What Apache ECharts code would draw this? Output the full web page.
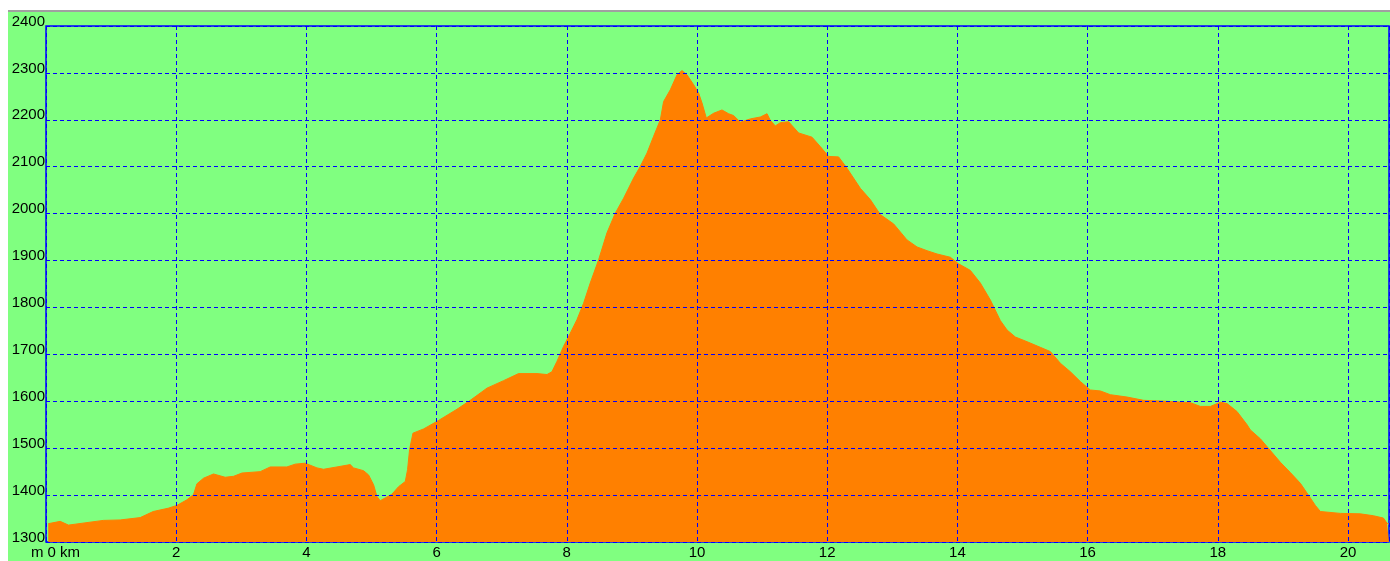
<!DOCTYPE html>
<html>
<head>
<meta charset="utf-8">
<title>Höhenprofil</title>
<script src="https://cdn.jsdelivr.net/npm/echarts@6/dist/echarts.min.js"></script>
<style>
  html, body { margin: 0; padding: 0; background: #ffffff; }
  #chart { width: 1390px; height: 561px; }
</style>
</head>
<body>
<div id="chart"></div>
<script>
// Distance along the route (km)
const distKm = [
  0.034, 0.218, 0.346, 0.449, 0.879, 1.14, 1.447, 1.647, 1.877, 2.011,
  2.165, 2.266, 2.318, 2.42, 2.573, 2.753, 2.881, 3.01, 3.291, 3.445,
  3.70, 3.829, 3.982, 4.162, 4.263, 4.469, 4.673, 4.724, 4.878, 4.955,
  5.032, 5.084, 5.134, 5.211, 5.314, 5.416, 5.519, 5.554, 5.585, 5.637,
  5.80, 6.005, 6.313, 6.517, 6.774, 7.029, 7.259, 7.542, 7.696, 7.772,
  7.849, 7.95, 8.053, 8.156, 8.258, 8.36, 8.49, 8.617, 8.745, 8.873,
  9.027, 9.13, 9.232, 9.334, 9.437, 9.487, 9.59, 9.693, 9.77, 9.846,
  9.948, 10.025, 10.077, 10.143, 10.255, 10.384, 10.486, 10.563, 10.666, 10.82,
  10.973, 11.076, 11.126, 11.203, 11.28, 11.407, 11.561, 11.767, 11.894, 12.022,
  12.175, 12.304, 12.509, 12.662, 12.816, 13.021, 13.226, 13.38, 13.534, 13.687,
  13.892, 14.019, 14.199, 14.353, 14.506, 14.66, 14.763, 14.89, 15.07, 15.274,
  15.428, 15.582, 15.735, 15.889, 16.042, 16.196, 16.35, 16.606, 16.861, 17.221,
  17.579, 17.733, 17.886, 18.04, 18.143, 18.296, 18.45, 18.5, 18.654, 18.777,
  18.961, 19.115, 19.269, 19.392, 19.499, 19.576, 19.883, 20.19, 20.39, 20.544,
  20.6, 20.63
];

// Elevation at each point (m)
const elevM = [
  1339, 1344, 1336, 1338, 1346, 1347, 1352, 1365, 1372, 1378,
  1390, 1401, 1424, 1436, 1445, 1438, 1440, 1447, 1450, 1460,
  1460, 1466, 1468, 1458, 1455, 1460, 1465, 1458, 1452, 1443,
  1422, 1397, 1388, 1394, 1402, 1418, 1429, 1454, 1497, 1532,
  1541, 1557, 1583, 1602, 1628, 1644, 1659, 1659, 1657, 1663,
  1685, 1717, 1745, 1774, 1809, 1852, 1902, 1959, 2001, 2033,
  2076, 2101, 2129, 2165, 2200, 2239, 2264, 2296, 2305, 2296,
  2275, 2257, 2236, 2204, 2214, 2221, 2213, 2209, 2195, 2202,
  2206, 2213, 2199, 2187, 2194, 2196, 2172, 2163, 2143, 2122,
  2121, 2097, 2054, 2030, 1998, 1978, 1944, 1929, 1921, 1914,
  1907, 1893, 1879, 1852, 1816, 1772, 1752, 1737, 1727, 1715,
  1706, 1681, 1663, 1642, 1624, 1622, 1614, 1609, 1602, 1600,
  1597, 1589, 1589, 1598, 1595, 1578, 1550, 1539, 1520, 1500,
  1470, 1448, 1425, 1400, 1378, 1365, 1361, 1360, 1356, 1351,
  1340, 1338
];

// Axis ranges and tick steps
const xRange = [0, 20.63];
const xStep = 2;
const yRange = [1300, 2400];
const yStep = 100;

const FONT = '"Liberation Sans", Arial, sans-serif';
const BLUE = '#0000ff';

const chart = echarts.init(document.getElementById('chart'), null, { renderer: 'canvas' });

chart.setOption({
  animation: false,
  backgroundColor: '#80ff80',
  graphic: [
    { type: 'rect', shape: { x: 0, y: 0, width: 1390, height: 10 }, style: { fill: '#ffffff' }, silent: true },
    { type: 'rect', shape: { x: 0, y: 0, width: 8, height: 561 }, style: { fill: '#ffffff' }, silent: true },
    { type: 'rect', shape: { x: 8, y: 10, width: 1382, height: 2 }, style: { fill: '#a0a0a0' }, silent: true }
  ],
  grid: {
    left: 46, top: 26, width: 1343, height: 516,
    show: true,
    borderColor: BLUE,
    borderWidth: 1.5,
    backgroundColor: 'transparent',
    containLabel: false
  },
  xAxis: {
    type: 'value',
    min: xRange[0], max: xRange[1], interval: xStep,
    z: 5,
    axisLine: { show: false },
    axisTick: { show: false },
    splitLine: { show: true, lineStyle: { color: BLUE, width: 1, type: [4, 3] } },
    axisLabel: {
      showMaxLabel: false,
      margin: 3,
      color: '#000',
      fontFamily: FONT,
      fontSize: 15,
      formatter: v => v === 0 ? '{z|m 0 km}' : String(v),
      rich: { z: { padding: [0, 0, 0, 19], fontFamily: FONT, fontSize: 15, color: '#000' } }
    }
  },
  yAxis: {
    type: 'value',
    min: yRange[0], max: yRange[1], interval: yStep,
    z: 5,
    axisLine: { show: false },
    axisTick: { show: false },
    splitLine: { show: true, lineStyle: { color: BLUE, width: 1, type: [4, 3] } },
    axisLabel: {
      margin: 1,
      color: '#000',
      fontFamily: FONT,
      fontSize: 15,
      lineHeight: 9,
      verticalAlign: 'bottom',
      formatter: v => String(v)
    }
  },
  series: [{
    type: 'line',
    data: distKm.map((d, i) => [d, elevM[i]]),
    symbol: 'none',
    z: 2,
    lineStyle: { color: '#ff8000', width: 1 },
    areaStyle: { color: '#ff8000', opacity: 1, origin: 'start' }
  }]
});
</script>
</body>
</html>
